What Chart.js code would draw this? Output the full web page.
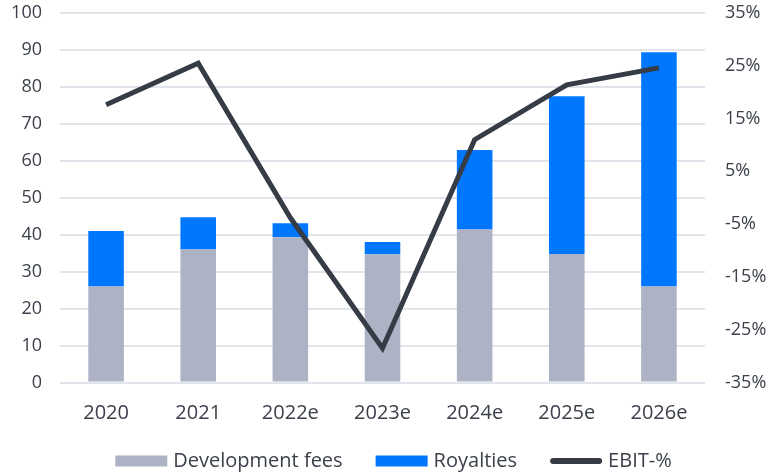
<!DOCTYPE html>
<html>
<head>
<meta charset="utf-8">
<script src="https://cdn.jsdelivr.net/npm/chart.js@4.4.0/dist/chart.umd.min.js"></script>
<style>
  html, body { margin: 0; padding: 0; background: #ffffff; }
  #wrap { width: 770px; height: 472px; position: relative; }
</style>
</head>
<body>
<div id="wrap"><canvas id="c" width="770" height="472"></canvas></div>
<script>
const categories = ['2020', '2021', '2022e', '2023e', '2024e', '2025e', '2026e'];
const developmentFees = [26, 36, 39.3, 34.7, 41.4, 34.8, 26];
const royalties = [15, 8.7, 3.8, 3.3, 21.5, 42.7, 63.4];
const ebitPct = [17.6, 25.5, -3.8, -28.5, 11, 21.4, 24.6];
const leftTicks = [0, 100, 10];
const rightTicks = [-35, 35, 10];

const FONT = "'Open Sans', 'Liberation Sans', sans-serif";
const TEXT = '#3b404a';
const LINE = '#353c45';

const customLegend = {
  id: 'customLegend',
  afterDraw(chart) {
    const ctx = chart.ctx;
    const ds = chart.data.datasets;
    const font = '20px ' + FONT;
    ctx.save();
    ctx.font = font;
    ctx.textBaseline = 'middle';
    ctx.textAlign = 'left';
    const boxW = 52, gapText = 6, gapItem = 33;
    const widths = ds.map(d => boxW + gapText + ctx.measureText(d.label).width);
    const total = widths.reduce((a, b) => a + b, 0) + gapItem * (ds.length - 1);
    let x = 393.5 - total / 2;
    const cy = 461;
    ds.forEach((d, i) => {
      if (d.type === 'line') {
        ctx.strokeStyle = d.borderColor;
        ctx.lineWidth = 6;
        ctx.lineCap = 'round';
        ctx.beginPath();
        ctx.moveTo(x + 3, cy);
        ctx.lineTo(x + boxW - 3, cy);
        ctx.stroke();
      } else {
        ctx.fillStyle = d.backgroundColor;
        ctx.fillRect(x, cy - 5.5, boxW, 11);
      }
      ctx.fillStyle = TEXT;
      ctx.fillText(d.label, x + boxW + gapText, cy);
      x += widths[i] + gapItem;
    });
    ctx.restore();
  }
};

new Chart(document.getElementById('c'), {
  type: 'bar',
  data: {
    labels: categories,
    datasets: [
      {
        label: 'Development fees',
        data: developmentFees,
        backgroundColor: '#adb2c4',
        yAxisID: 'y',
        stack: 's',
        order: 1
      },
      {
        label: 'Royalties',
        data: royalties,
        backgroundColor: '#0077ff',
        yAxisID: 'y',
        stack: 's',
        order: 1
      },
      {
        type: 'line',
        label: 'EBIT-%',
        data: ebitPct,
        yAxisID: 'y1',
        borderColor: LINE,
        backgroundColor: LINE,
        borderWidth: 5,
        pointRadius: 0,
        tension: 0,
        borderJoinStyle: 'miter',
        borderCapStyle: 'butt',
        order: 0
      }
    ]
  },
  plugins: [customLegend],
  options: {
    responsive: false,
    animation: false,
    devicePixelRatio: 1,
    layout: { padding: { top: 13, left: 0, right: 0, bottom: 0 } },
    datasets: { bar: { categoryPercentage: 1, barPercentage: 0.386 } },
    plugins: {
      tooltip: { enabled: false },
      legend: { display: false }
    },
    scales: {
      x: {
        stacked: true,
        grid: { display: false },
        border: { display: false },
        ticks: { color: TEXT, font: { family: FONT, size: 20 }, padding: 10.5 },
        afterFit: s => { s.height = 89.5; s.paddingLeft = 0; s.paddingRight = 0; }
      },
      y: {
        stacked: true,
        position: 'left',
        min: leftTicks[0],
        max: leftTicks[1],
        ticks: { stepSize: leftTicks[2], color: TEXT, font: { family: FONT, size: 18 }, padding: 18 },
        grid: { color: '#e1e4ea', lineWidth: 2, drawTicks: false },
        border: { display: false },
        afterFit: s => { s.width = 60; s.paddingTop = 0; s.paddingBottom = 0; }
      },
      y1: {
        position: 'right',
        stacked: false,
        min: rightTicks[0],
        max: rightTicks[1],
        ticks: { stepSize: rightTicks[2], color: TEXT, font: { family: FONT, size: 18 }, padding: 20,
          callback: v => v + '%' },
        grid: { display: false, drawTicks: false },
        border: { display: false },
        afterFit: s => { s.width = 65; s.paddingTop = 0; s.paddingBottom = 0; }
      }
    }
  }
});
</script>
</body>
</html>
